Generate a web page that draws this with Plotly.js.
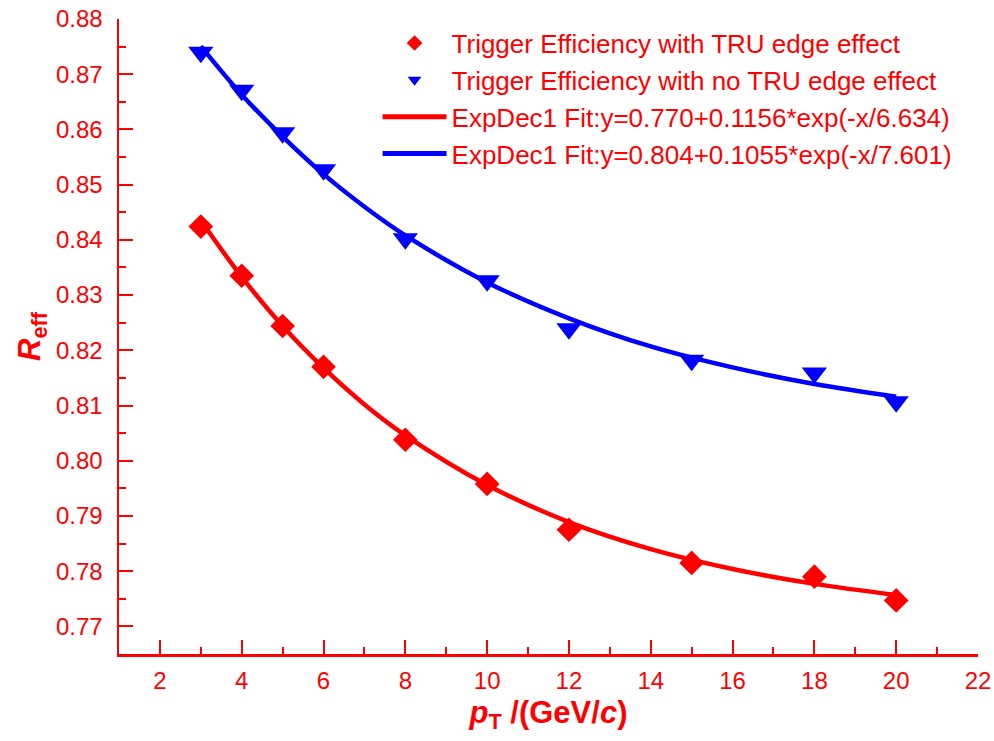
<!DOCTYPE html>
<html>
<head>
<meta charset="utf-8">
<script src="https://cdn.plot.ly/plotly-3.0.1.min.js"></script>
<style>html,body{margin:0;padding:0;background:#fff;}#chart{width:994px;height:741px;}</style>
</head>
<body>
<div id="chart"></div>
<script>
// Data
const ptValues = [3, 4, 5, 6, 8, 10, 12, 15, 18, 20];
const effWithEdge = [0.8424, 0.8335, 0.8244, 0.8170, 0.8038, 0.7958, 0.7875, 0.7815, 0.7790, 0.7747];
const effNoEdge = [0.8740, 0.8671, 0.8594, 0.8527, 0.8402, 0.8326, 0.8239, 0.8182, 0.8159, 0.8107];
const fitPt = [3, 4, 5, 6, 7, 8, 10, 12, 14, 16, 18, 20];
const fitWithEdge = [0.8435, 0.8333, 0.8244, 0.8168, 0.8102, 0.8046, 0.7956, 0.7889, 0.7840, 0.7804, 0.7777, 0.7757];
const fitNoEdge = [0.8751, 0.8663, 0.8587, 0.8519, 0.8460, 0.8408, 0.8323, 0.8258, 0.8207, 0.8169, 0.8139, 0.8116];
const seriesNames = [
  'Trigger Efficiency with TRU edge effect',
  'Trigger Efficiency with no TRU edge effect',
  'ExpDec1 Fit:y=0.770+0.1156*exp(-x/6.634)',
  'ExpDec1 Fit:y=0.804+0.1055*exp(-x/7.601)'
];

const RED = '#FF0000', BLUE = '#0000FF';
const FONT = '"Liberation Sans", Arial, sans-serif';

const traces = [
  {x: fitPt, y: fitWithEdge, name: seriesNames[2], mode: 'lines', legendrank: 3,
   line: {color: RED, width: 4.5, shape: 'spline', smoothing: 1}},
  {x: fitPt, y: fitNoEdge, name: seriesNames[3], mode: 'lines', legendrank: 4,
   line: {color: BLUE, width: 4.5, shape: 'spline', smoothing: 1}},
  {x: ptValues, y: effWithEdge, name: seriesNames[0], mode: 'markers', legendrank: 1,
   marker: {symbol: 'diamond', size: 19, color: RED}},
  {x: ptValues, y: effNoEdge, name: seriesNames[1], mode: 'markers', legendrank: 2,
   marker: {symbol: 'triangle-down', size: 22, color: BLUE}}
];

const layout = {
  width: 994, height: 741,
  margin: {l: 119, r: 16, t: 19, b: 87},
  paper_bgcolor: '#fff', plot_bgcolor: '#fff',
  font: {family: FONT, color: RED, size: 24},
  showlegend: true,
  legend: {
    x: 0.301, y: 0.999, xanchor: 'left', yanchor: 'top',
    bgcolor: 'rgba(0,0,0,0)', borderwidth: 0,
    font: {family: FONT, size: 26, color: RED},
    itemwidth: 64, itemsizing: 'constant', tracegroupgap: 0
  },
  xaxis: {
    range: [1, 22], tick0: 0, dtick: 2,
    showgrid: false, zeroline: false,
    showline: true, linecolor: RED, linewidth: 2.5,
    ticks: 'inside', ticklen: 14, tickwidth: 2, tickcolor: RED,
    ticklabelstandoff: 4,
    tickfont: {family: FONT, size: 24, color: RED},
    minor: {dtick: 1, ticks: 'inside', ticklen: 7, tickwidth: 2, tickcolor: RED, showgrid: false},
    title: {text: '<b><i>p</i><sub>T</sub> /(GeV/<i>c</i>)</b>', font: {family: FONT, size: 31, color: RED}, standoff: 8}
  },
  yaxis: {
    range: [0.765, 0.88], tick0: 0.77, dtick: 0.01, tickformat: '.2f',
    showgrid: false, zeroline: false,
    showline: true, linecolor: RED, linewidth: 2.5,
    ticks: 'inside', ticklen: 14, tickwidth: 2, tickcolor: RED,
    ticklabelstandoff: 9,
    tickfont: {family: FONT, size: 24, color: RED},
    minor: {dtick: 0.005, ticks: 'inside', ticklen: 7, tickwidth: 2, tickcolor: RED, showgrid: false},
    title: {text: '<b><i>R</i><sub>eff</sub></b>', font: {family: FONT, size: 31, color: RED}, standoff: 6}
  }
};

Plotly.newPlot('chart', traces, layout, {displayModeBar: false, staticPlot: true});
</script>
</body>
</html>
